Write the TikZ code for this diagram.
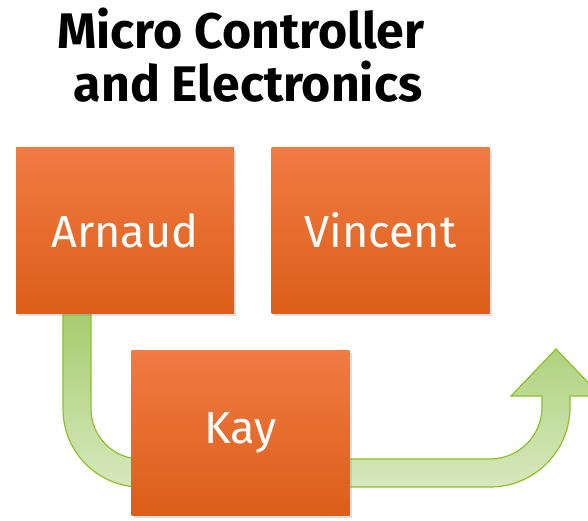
\documentclass[tikz,border=0pt]{standalone}
\usepackage{fontspec}
\setmainfont{Fira Sans}
\usetikzlibrary{shadows}
\definecolor{boxtop}{RGB}{241,123,68}
\definecolor{boxbot}{RGB}{220,94,24}
\definecolor{arrowline}{RGB}{140,194,40}
\definecolor{arrowtop}{RGB}{160,201,100}
\definecolor{arrowbot}{RGB}{214,232,190}
\tikzset{
  member/.style={rectangle, minimum width=218pt, minimum height=165pt,
    inner sep=0pt, top color=boxtop, bottom color=boxbot, draw=none,
    text=white, font=\fontsize{45}{54}\selectfont,
    drop shadow={opacity=0.25, shadow xshift=2pt, shadow yshift=-3pt}},
  flow/.style={draw=arrowline, line width=1.2pt, top color=arrowtop,
    bottom color=arrowbot, line join=miter}
}
\begin{document}
\begin{tikzpicture}[x=1pt,y=1pt]
\useasboundingbox (0,0) rectangle (588,520);
\clip (0,0) rectangle (588,520);
% bent arrow running under the boxes
\draw[flow] (63,230) -- (63,111) arc[start angle=180, end angle=270, radius=78]
  -- (490,33) arc[start angle=270, end angle=360, radius=80]
  -- (570,124) -- (601,124) -- (556,171) -- (511,124) -- (542,124)
  -- (542,113) arc[start angle=0, end angle=-90, radius=52]
  -- (141,61) arc[start angle=270, end angle=180, radius=50]
  -- (91,230) -- cycle;
% title
\node[font=\bfseries\fontsize{50}{53}\selectfont, align=center] (title) at (241,465)
  {Micro Controller\\\hspace*{14pt}and Electronics};
% team boxes
\node[member] (arnaud) at (125,289.5) {Arnaud};
\node[member] (vincent) at (380.5,289.5) {Vincent};
\node[member] (kay) at (240.5,87.5) {Kay};
\end{tikzpicture}
\end{document}
